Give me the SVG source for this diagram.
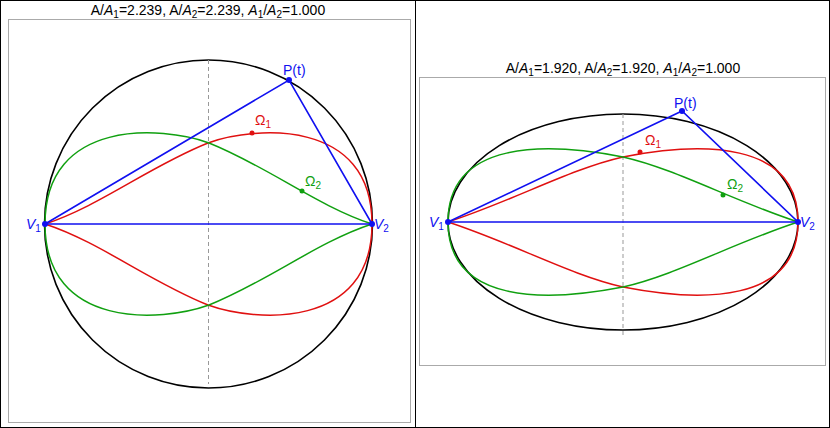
<svg xmlns="http://www.w3.org/2000/svg" width="830" height="428" viewBox="0 0 830 428">
<style>
text{font-family:"Liberation Sans",Arial,sans-serif;}
.t{font-size:14px;fill:#000;text-anchor:middle}
.frame{fill:none;stroke:#aaa;stroke-width:1}
.k{fill:none;stroke:#000;stroke-width:1.6}
.d{stroke:#999;stroke-dasharray:4,3;stroke-width:1}
.r{fill:none;stroke:#e01010;stroke-width:1.5}
.g{fill:none;stroke:#10a010;stroke-width:1.5}
.b{fill:none;stroke:#1010f0;stroke-width:1.6}
.lb{fill:#1010f0;font-size:14px}
.lr{fill:#e01010;font-size:14px}
.lg{fill:#10a010;font-size:14px}
</style>
<rect x="0.5" y="0.5" width="829" height="427" fill="#fff" stroke="#000"/>
<line x1="415.5" y1="0" x2="415.5" y2="428" stroke="#000"/>
<g id="left">
<text class="t" x="208" y="15">A/<tspan font-style="italic">A</tspan><tspan font-size="10" dy="3">1</tspan><tspan dy="-3">=2.239, A/</tspan><tspan font-style="italic">A</tspan><tspan font-size="10" dy="3">2</tspan><tspan dy="-3">=2.239, </tspan><tspan font-style="italic">A</tspan><tspan font-size="10" dy="3">1</tspan><tspan dy="-3">/</tspan><tspan font-style="italic">A</tspan><tspan font-size="10" dy="3">2</tspan><tspan dy="-3">=1.000</tspan></text>
<rect class="frame" x="8.5" y="19.5" width="402" height="403"/>
<circle class="k" cx="208.5" cy="224" r="164"/>
<line class="d" x1="208.5" y1="60" x2="208.5" y2="384"/>
<path class="r" d="M45,224 C100,206 150,166 208,143 C255,126 372,118 372,224 M45,224 C100,242 150,282 208,305 C255,322 372,330 372,224"/>
<path class="g" d="M372,224 C317,206 267,166 209,143 C162,126 45,118 45,224 M372,224 C317,242 267,282 209,305 C162,322 45,330 45,224"/>
<circle cx="252" cy="133" r="2.5" fill="#e01010"/>
<circle cx="302" cy="191" r="2.5" fill="#10a010"/>
<text class="lr" x="255" y="125">Ω<tspan font-size="10" dy="3">1</tspan></text>
<text class="lg" x="305" y="186">Ω<tspan font-size="10" dy="3">2</tspan></text>
<path class="b" d="M45,224 L372,224 L289,80 Z"/>
<circle cx="45" cy="224" r="3" fill="#1010f0"/>
<circle cx="372" cy="224" r="3" fill="#1010f0"/>
<circle cx="289" cy="80" r="3" fill="#1010f0"/>
<text class="lb" x="283" y="75">P(t)</text>
<text class="lb" x="26" y="229" font-style="italic">V<tspan font-size="10" dy="3" font-style="normal">1</tspan></text>
<text class="lb" x="374" y="229" font-style="italic">V<tspan font-size="10" dy="3" font-style="normal">2</tspan></text>
</g>
<g id="right">
<text class="t" x="623" y="73">A/<tspan font-style="italic">A</tspan><tspan font-size="10" dy="3">1</tspan><tspan dy="-3">=1.920, A/</tspan><tspan font-style="italic">A</tspan><tspan font-size="10" dy="3">2</tspan><tspan dy="-3">=1.920, </tspan><tspan font-style="italic">A</tspan><tspan font-size="10" dy="3">1</tspan><tspan dy="-3">/</tspan><tspan font-style="italic">A</tspan><tspan font-size="10" dy="3">2</tspan><tspan dy="-3">=1.000</tspan></text>
<rect class="frame" x="419.5" y="77.5" width="406" height="288"/>
<ellipse class="k" cx="623" cy="222" rx="175" ry="108"/>
<line class="d" x1="623" y1="114" x2="623" y2="336"/>
<path class="r" d="M448,222 C515,200 570,169 623,157 C700,142 798,140 798,222 M448,222 C515,244 570,275 623,287 C700,302 798,304 798,222"/>
<path class="g" d="M798,222 C731,200 676,169 623,157 C546,142 448,140 448,222 M798,222 C731,244 676,275 623,287 C546,302 448,304 448,222"/>
<circle cx="640" cy="152" r="2.5" fill="#e01010"/>
<circle cx="723" cy="195" r="2.5" fill="#10a010"/>
<text class="lr" x="645" y="145">Ω<tspan font-size="10" dy="3">1</tspan></text>
<text class="lg" x="727" y="189">Ω<tspan font-size="10" dy="3">2</tspan></text>
<path class="b" d="M448,222 L798,222 L682,111 Z"/>
<circle cx="448" cy="222" r="3" fill="#1010f0"/>
<circle cx="798" cy="222" r="3" fill="#1010f0"/>
<circle cx="682" cy="111" r="3" fill="#1010f0"/>
<text class="lb" x="674" y="108">P(t)</text>
<text class="lb" x="429" y="227" font-style="italic">V<tspan font-size="10" dy="3" font-style="normal">1</tspan></text>
<text class="lb" x="800" y="227" font-style="italic">V<tspan font-size="10" dy="3" font-style="normal">2</tspan></text>
</g>
</svg>
